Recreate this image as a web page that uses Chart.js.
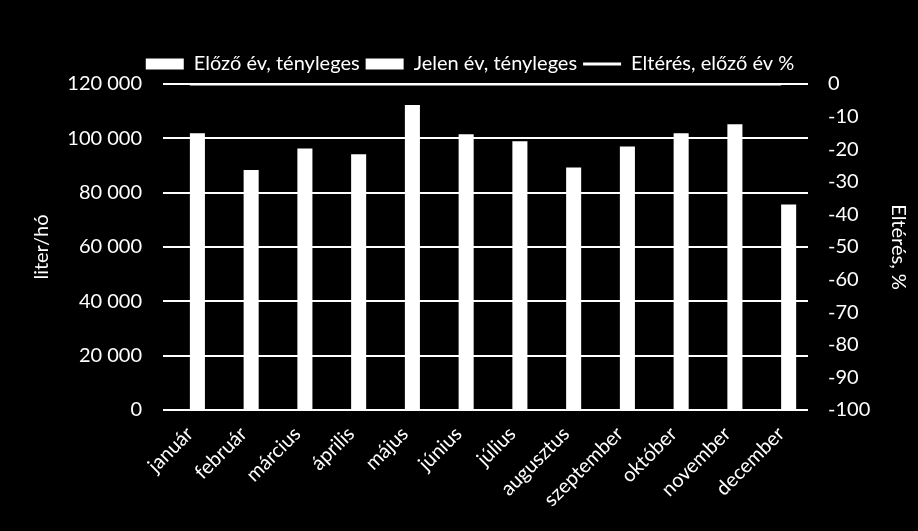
<!DOCTYPE html>
<html>
<head>
<meta charset="utf-8">
<script src="https://cdn.jsdelivr.net/npm/chart.js@4.4.0/dist/chart.umd.min.js"></script>
<style>
  html, body { margin: 0; padding: 0; background: #000; }
  #wrap { width: 918px; height: 531px; position: relative; }
</style>
</head>
<body>
<div id="wrap"><canvas id="chart"></canvas></div>
<script>
// adatok
const honapok = ['január', 'február', 'március', 'április', 'május', 'június',
  'július', 'augusztus', 'szeptember', 'október', 'november', 'december'];
const elozoEv = [null, null, null, null, null, null, null, null, null, null, null, null];
const jelenEv = [101900, 88300, 96300, 94100, 112300, 101500, 98900, 89300, 97000, 101900, 105200, 75600];
const elteres = [0, 0, 0, 0, 0, 0, 0, 0, 0, 0, 0, 0];

const betu = 'Lato, "Liberation Sans", sans-serif';
Chart.defaults.font.family = betu;
Chart.defaults.font.size = 20;
Chart.defaults.color = '#fff';

const ezres = v => String(v).replace(/\B(?=(\d{3})+(?!\d))/g, ' ');

new Chart(document.getElementById('chart'), {
  type: 'bar',
  data: {
    labels: honapok,
    datasets: [
      {
        label: 'Előző év, tényleges', data: elozoEv,
        backgroundColor: '#fff', borderWidth: 0, pointStyle: 'rect',
        categoryPercentage: 0.56, barPercentage: 1, yAxisID: 'y'
      },
      {
        label: 'Jelen év, tényleges', data: jelenEv,
        backgroundColor: '#fff', borderWidth: 0, pointStyle: 'rect',
        categoryPercentage: 0.56, barPercentage: 1, yAxisID: 'y'
      },
      {
        type: 'line', label: 'Eltérés, előző év %', data: elteres,
        borderColor: '#fff', backgroundColor: '#fff', borderWidth: 3,
        pointRadius: 0, pointStyle: 'line', yAxisID: 'y1'
      }
    ]
  },
  options: {
    responsive: true,
    maintainAspectRatio: false,
    animation: false,
    layout: { padding: { top: 48, left: 30, right: 8, bottom: 0 } },
    plugins: {
      tooltip: { enabled: false },
      legend: {
        position: 'top',
        labels: {
          usePointStyle: true, pointStyleWidth: 38, boxHeight: 11,
          padding: 6, color: '#fff', font: { size: 20 }
        }
      }
    },
    scales: {
      x: {
        grid: { display: false },
        border: { display: false },
        ticks: { color: '#fff', font: { size: 20 }, minRotation: 45, maxRotation: 45, padding: 4 },
        afterFit: s => { s.height = 121; }
      },
      y: {
        position: 'left', min: 0, max: 120000,
        grid: { color: '#fff', lineWidth: 2, drawTicks: false },
        border: { display: false },
        ticks: { stepSize: 20000, color: '#fff', font: { size: 20 }, padding: 21, callback: v => ezres(v) },
        title: { display: true, text: 'liter/hó', color: '#fff', font: { size: 20 }, padding: 0 },
        afterFit: s => { s.width = 133; }
      },
      y1: {
        position: 'right', min: -100, max: 0,
        grid: { display: false, drawTicks: false },
        border: { display: false },
        ticks: { stepSize: 10, color: '#fff', font: { size: 20 }, padding: 20 },
        title: { display: true, text: 'Eltérés, %', color: '#fff', font: { size: 20 }, padding: 0 },
        afterFit: s => { s.width = 102; }
      }
    }
  }
});
</script>
</body>
</html>
